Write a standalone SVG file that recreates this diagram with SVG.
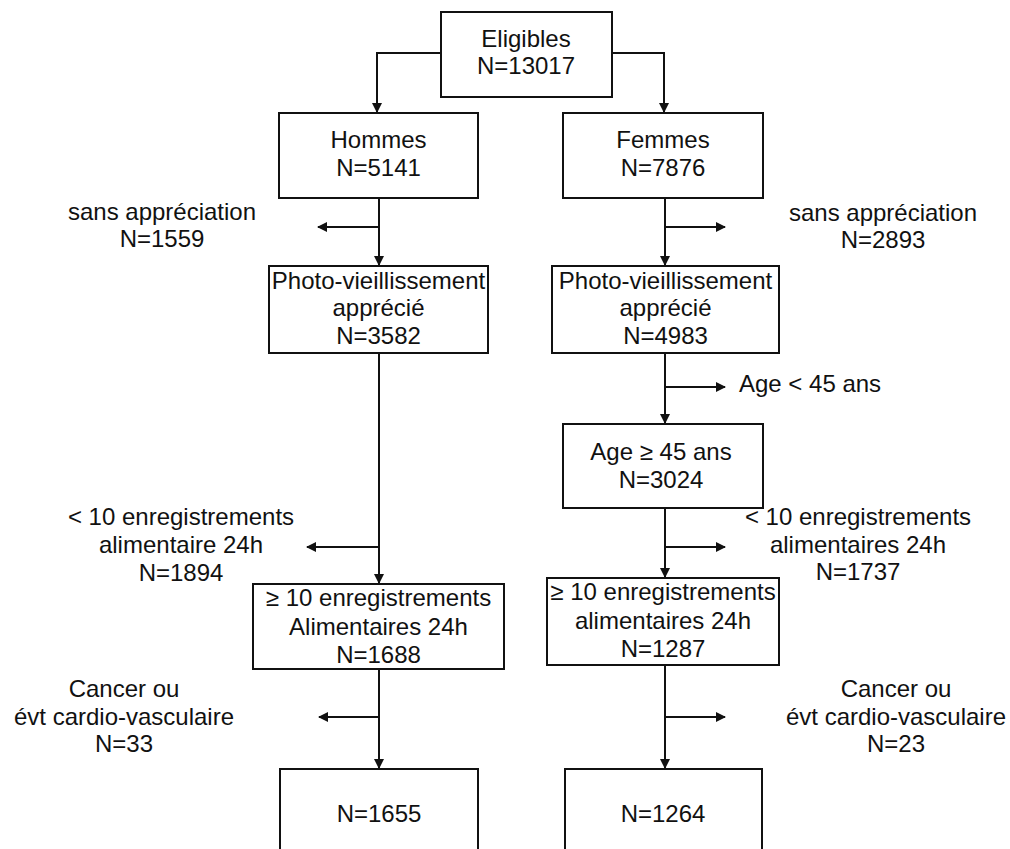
<svg xmlns="http://www.w3.org/2000/svg" width="1010" height="849" viewBox="0 0 1010 849">
<style>
.box{fill:#fff;stroke:#111;stroke-width:2}
.t{font-family:"Liberation Sans",Arial,sans-serif;font-size:24px;fill:#111;text-anchor:middle}
.ts{font-family:"Liberation Sans",Arial,sans-serif;font-size:24px;fill:#111}
.c{fill:none;stroke:#111;stroke-width:2}
</style>
<defs>
<marker id="ah" markerWidth="10" markerHeight="10" refX="9" refY="5" orient="auto" markerUnits="userSpaceOnUse">
<path d="M0,0 L10,5 L0,10 Z" fill="#111"/>
</marker>
</defs>
<rect width="1010" height="849" fill="#fff"/>
<g id="connectors">
<path class="c" d="M441,53 H377 V112" marker-end="url(#ah)"/>
<path class="c" d="M612,53 H664 V112" marker-end="url(#ah)"/>
<path class="c" d="M379,198 V265" marker-end="url(#ah)"/>
<path class="c" d="M379,227 H318" marker-end="url(#ah)"/>
<path class="c" d="M379,353 V583" marker-end="url(#ah)"/>
<path class="c" d="M379,547 H307" marker-end="url(#ah)"/>
<path class="c" d="M379,669 V768" marker-end="url(#ah)"/>
<path class="c" d="M379,717 H319" marker-end="url(#ah)"/>
<path class="c" d="M665,198 V265" marker-end="url(#ah)"/>
<path class="c" d="M665,227 H725" marker-end="url(#ah)"/>
<path class="c" d="M665,353 V423" marker-end="url(#ah)"/>
<path class="c" d="M665,387 H725" marker-end="url(#ah)"/>
<path class="c" d="M665,508 V577" marker-end="url(#ah)"/>
<path class="c" d="M665,547 H725" marker-end="url(#ah)"/>
<path class="c" d="M665,665 V768" marker-end="url(#ah)"/>
<path class="c" d="M665,717 H725" marker-end="url(#ah)"/>
</g>
<g id="eligibles">
<rect class="box" x="441" y="12" width="171" height="85"/>
<text class="t" x="526" y="47">Eligibles</text>
<text class="t" x="526" y="74">N=13017</text>
</g>
<g id="hommes">
<rect class="box" x="279" y="113" width="199" height="85"/>
<text class="t" x="378.5" y="148">Hommes</text>
<text class="t" x="378.5" y="176">N=5141</text>
</g>
<g id="femmes">
<rect class="box" x="563" y="113" width="200" height="85"/>
<text class="t" x="663" y="148">Femmes</text>
<text class="t" x="663" y="176">N=7876</text>
</g>
<g id="sans-h">
<text class="t" x="162" y="220">sans appréciation</text>
<text class="t" x="162" y="247">N=1559</text>
</g>
<g id="sans-f">
<text class="t" x="883" y="221">sans appréciation</text>
<text class="t" x="883" y="248">N=2893</text>
</g>
<g id="photo-h">
<rect class="box" x="269" y="266" width="219" height="87"/>
<text class="t" x="378.5" y="289">Photo-vieillissement</text>
<text class="t" x="378.5" y="316">apprécié</text>
<text class="t" x="378.5" y="344">N=3582</text>
</g>
<g id="photo-f">
<rect class="box" x="552" y="266" width="227" height="87"/>
<text class="t" x="665.5" y="289">Photo-vieillissement</text>
<text class="t" x="665.5" y="316">apprécié</text>
<text class="t" x="665.5" y="344">N=4983</text>
</g>
<g id="age-lt">
<text class="ts" x="739" y="392">Age &lt; 45 ans</text>
</g>
<g id="age-ge">
<rect class="box" x="563" y="424" width="200" height="84"/>
<text class="t" x="661" y="460">Age ≥ 45 ans</text>
<text class="t" x="661" y="488">N=3024</text>
</g>
<g id="lt10-h">
<text class="t" x="181" y="525">&lt; 10 enregistrements</text>
<text class="t" x="181" y="553">alimentaire 24h</text>
<text class="t" x="181" y="581">N=1894</text>
</g>
<g id="lt10-f">
<text class="t" x="858" y="525">&lt; 10 enregistrements</text>
<text class="t" x="858" y="553">alimentaires 24h</text>
<text class="t" x="858" y="580">N=1737</text>
</g>
<g id="ge10-h">
<rect class="box" x="253" y="584" width="251" height="85"/>
<text class="t" x="378.5" y="606">≥ 10 enregistrements</text>
<text class="t" x="378.5" y="635">Alimentaires 24h</text>
<text class="t" x="378.5" y="663">N=1688</text>
</g>
<g id="ge10-f">
<rect class="box" x="547" y="578" width="232" height="87"/>
<text class="t" x="663" y="600">≥ 10 enregistrements</text>
<text class="t" x="663" y="629">alimentaires 24h</text>
<text class="t" x="663" y="657">N=1287</text>
</g>
<g id="cancer-h">
<text class="t" x="124" y="697">Cancer ou</text>
<text class="t" x="124" y="725">évt cardio-vasculaire</text>
<text class="t" x="124" y="752">N=33</text>
</g>
<g id="cancer-f">
<text class="t" x="896" y="697">Cancer ou</text>
<text class="t" x="896" y="725">évt cardio-vasculaire</text>
<text class="t" x="896" y="752">N=23</text>
</g>
<g id="final-h">
<rect class="box" x="280" y="769" width="198" height="100"/>
<text class="t" x="379" y="822">N=1655</text>
</g>
<g id="final-f">
<rect class="box" x="565" y="769" width="197" height="100"/>
<text class="t" x="663" y="822">N=1264</text>
</g>
</svg>
